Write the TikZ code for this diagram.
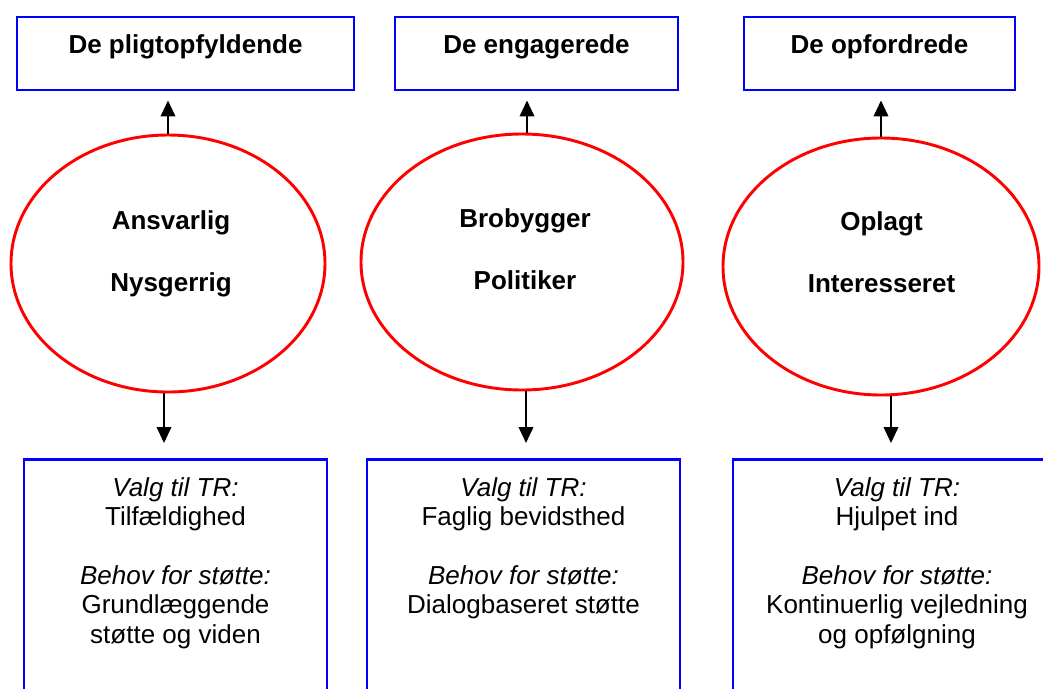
\documentclass[tikz,border=0pt]{standalone}
\usepackage{fontspec}
\setmainfont{Liberation Sans}
\usetikzlibrary{positioning,arrows.meta,shapes.geometric}
\tikzset{
  group/.style={draw=blue, line width=2.2pt, rectangle, inner sep=0pt, minimum height=54.75pt,
    text height=14pt, text depth=14pt, font=\fontsize{19.5}{22}\selectfont\bfseries},
  persona/.style={draw=red, line width=2.2pt, ellipse, inner sep=0pt},
  trait/.style={align=center, inner sep=0pt, anchor=north, font=\fontsize{19.5}{22}\selectfont\bfseries},
  infobox/.style={draw=blue, line width=2.2pt, rectangle, inner sep=0pt, anchor=north, minimum height=200pt},
  infotext/.style={align=center, inner sep=0pt, font=\fontsize{19.5}{22}\selectfont},
  flow/.style={-{Triangle[length=12pt,width=11pt]}, line width=1.3pt}
}
\begin{document}
\begin{tikzpicture}[x=0.75pt, y=-0.75pt]
    \useasboundingbox (0,0) rectangle (1043,689);
    \clip (0,0) rectangle (1043,689);

    % grupper (oeverst)
    \node[group, minimum width=252.75pt] (g1) at (185.5,53.5) {De pligtopfyldende};
    \node[group, minimum width=212.25pt] (g2) at (536.5,53.5) {De engagerede};
    \node[group, minimum width=203.25pt] (g3) at (879.5,53.5) {De opfordrede};

    % roller (ellipser)
    \node[persona, minimum width=235.5pt, minimum height=192.75pt] (e1) at (168,263.5) {};
    \node[persona, minimum width=241.5pt, minimum height=192pt] (e2) at (522,262) {};
    \node[persona, minimum width=237pt, minimum height=192.75pt] (e3) at (881,266.5) {};
    \node[trait] (r1) at ([xshift=2.25pt, yshift=39.6pt]e1.center) {Ansvarlig\\[24.5pt]Nysgerrig};
    \node[trait] (r2) at ([xshift=2.25pt, yshift=40pt]e2.center) {Brobygger\\[24.5pt]Politiker};
    \node[trait] (r3) at ([xshift=0.4pt, yshift=41.3pt]e3.center) {Oplagt\\[24.5pt]Interesseret};

    % valg og behov (nederst)
    \node[infobox, minimum width=227.25pt] (b1) at (175.5,458) {};
    \node[infobox, minimum width=234.75pt] (b2) at (523.5,458) {};
    \node[infobox, minimum width=246pt] (b3) at (897,458) {};
    \node[infotext, below=14.5pt of b1.north] (v1)
        {\textit{Valg til TR:}\\Tilfældighed\\[22pt]\textit{Behov for støtte:}\\Grundlæggende\\støtte og viden};
    \node[infotext, below=14.5pt of b2.north] (v2)
        {\textit{Valg til TR:}\\Faglig bevidsthed\\[22pt]\textit{Behov for støtte:}\\Dialogbaseret støtte};
    \node[infotext, below=14.5pt of b3.north] (v3)
        {\textit{Valg til TR:}\\Hjulpet ind\\[22pt]\textit{Behov for støtte:}\\Kontinuerlig vejledning\\og opfølgning};

    % pile op
    \draw[flow, shorten >=6.75pt] (e1.north) -- (e1.north |- g1.south);
    \draw[flow, shorten >=6.75pt] ([xshift=3.75pt]e2.north) -- ([xshift=3.75pt]e2.north |- g2.south);
    \draw[flow, shorten >=6.75pt] (e3.north) -- (e3.north |- g3.south);

    % pile ned
    \draw[flow, shorten >=11.25pt] ([xshift=-3pt]e1.south) -- ([xshift=-3pt]e1.south |- b1.north);
    \draw[flow, shorten >=11.25pt] ([xshift=3pt]e2.south) -- ([xshift=3pt]e2.south |- b2.north);
    \draw[flow, shorten >=11.25pt] ([xshift=7.5pt]e3.south) -- ([xshift=7.5pt]e3.south |- b3.north);
\end{tikzpicture}
\end{document}
